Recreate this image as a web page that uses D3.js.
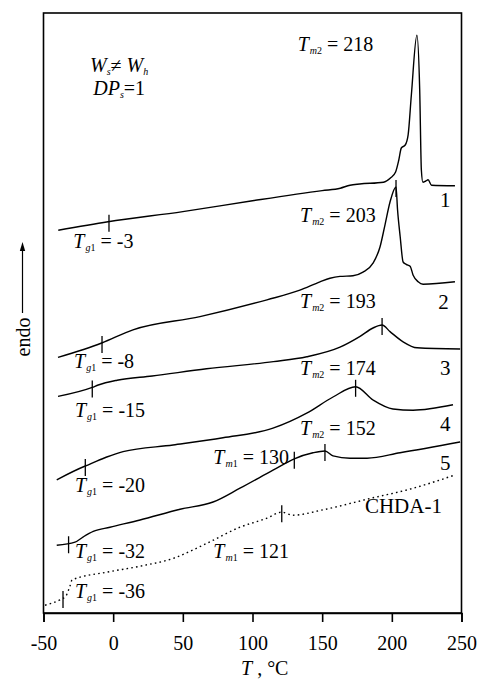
<!DOCTYPE html>
<html>
<head>
<meta charset="utf-8">
<script src="https://cdn.jsdelivr.net/npm/d3@7"></script>
<style>
  html, body { margin: 0; padding: 0; background: #fff; }
  svg { display: block; }
</style>
</head>
<body>
<svg id="chart" width="483" height="682"></svg>
<script>
// DSC heating curves: temperature (°C) vs heat flow (arbitrary units, endo up)
const curve1 = [[-39.4,63.8],[-3.7,65.2],[50,66.9],[100,68.7],[150,70.4],[163,70.8],[170,71.3],[177,71.5],[194,71.8],[199,72.5],[202.7,73.5],[205,75.5],[206.8,77.5],[209.6,78.0],[211.7,79.7],[214,86.3],[218,96.3],[220,87.2],[221.2,73.8],[222.3,71.8],[224.4,72.0],[226,72.2],[228.5,71.3],[245.3,71.2]];
const curve2 = [[-39.6,42.6],[-8.2,45.0],[14.2,47.2],[62.3,49.4],[110.4,52.2],[134,53.8],[148.4,55.2],[155.6,55.8],[162.8,56.1],[172.1,56.2],[179.3,56.8],[186.5,58.3],[191.5,61.0],[195.1,64.7],[198.7,68.5],[203,71.0],[204.1,67.2],[206,62.7],[208.1,58.5],[210.3,58.1],[213.1,57.8],[215.3,56.3],[218.9,55.2],[222.4,54.8],[245.3,55.2]];
const curve3 = [[-39.6,36.1],[-15,37.6],[-10.7,38.0],[2.8,38.8],[28,39.5],[67,40.7],[115,41.9],[139,42.7],[162.8,44.3],[177.2,46.1],[186.5,47.5],[193,48.0],[198.7,46.9],[208.1,45.2],[218.1,44.2],[249,44.0]];
const curve4 = [[-40.5,22.2],[-20,24.5],[-17.8,24.7],[-4.6,26.0],[7.1,26.9],[43,28.0],[78.8,29.2],[114.7,30.8],[138.9,33.3],[157.8,36.0],[174,37.7],[186.5,35.5],[200.8,34.0],[215.2,33.8],[243.9,34.7]];
const curve5 = [[-40.5,11.3],[-27.4,11.8],[-21.4,12.7],[-14.3,13.6],[-2.3,14.3],[19.3,15.5],[48,17.3],[71.7,18.5],[91,20.8],[114.7,23.8],[130,25.7],[143.4,26.7],[152,27.0],[157.8,26.2],[170,25.8],[182.2,25.8],[205.9,26.7],[249,28.5]];
const chda1 = [[-48.9,1.3],[-38.2,2.2],[-34,2.8],[-31,4.5],[-29.5,5.5],[-4.6,6.8],[19.3,7.8],[43,9.1],[67.1,11.6],[91,14.3],[110.4,15.8],[121,16.8],[129,16.3],[150.6,17.2],[186.5,19.2],[210.7,20.5],[245.3,23.0]];

const curveNames = ["1", "2", "3", "4", "5", "CHDA-1"];
const tg1Values = [-3, -8, -15, -20, -32, -36];
const tm1Values = [null, null, null, null, 130, 121];
const tm2Values = [218, 203, 193, 174, 152, null];
const xTicks = [-50, 0, 50, 100, 150, 200, 250];

const curves = [curve1, curve2, curve3, curve4, curve5, chda1];

const svg = d3.select("#chart");
const serif = "'Liberation Serif', 'Times New Roman', serif";

const x = d3.scaleLinear().domain([-50, 250]).range([43.5, 461.5]);
const y = d3.scaleLinear().domain([0, 100]).range([613, 13]);

// value of a curve at a given temperature (linear between samples)
function valueAt(data, T) {
  for (let i = 0; i < data.length - 1; i++) {
    const [t0, v0] = data[i], [t1, v1] = data[i + 1];
    if (T >= t0 && T <= t1) return v0 + (v1 - v0) * (T - t0) / (t1 - t0);
  }
  return T < data[0][0] ? data[0][1] : data[data.length - 1][1];
}

// frame
svg.append("rect")
  .attr("x", x(-50)).attr("y", y(100))
  .attr("width", x(250) - x(-50)).attr("height", y(0) - y(100))
  .attr("fill", "none").attr("stroke", "#000").attr("stroke-width", 1.6);

// x axis
const xAxis = svg.append("g")
  .attr("transform", `translate(0,${y(0)})`)
  .call(d3.axisBottom(x).tickValues(xTicks).tickSize(9).tickFormat(d3.format("d")));
xAxis.select(".domain").attr("stroke-width", 1.6);
xAxis.selectAll(".tick line").attr("stroke-width", 1.6);
xAxis.selectAll(".tick text")
  .attr("y", 37).attr("dy", null)
  .attr("font-family", serif).attr("font-size", 20).attr("fill", "#000")
  .text(d => d < 0 ? "-" + Math.abs(d) : d);

// axis title
const xt = svg.append("text")
  .attr("x", 241).attr("y", 675)
  .attr("font-family", serif).attr("font-size", 20);
xt.append("tspan").attr("font-style", "italic").text("T");
xt.append("tspan").text(" , \u00B0C");

// y axis label with arrow
svg.append("text")
  .attr("transform", "translate(30,337) rotate(-90)")
  .attr("text-anchor", "middle")
  .attr("font-family", serif).attr("font-size", 20)
  .text("endo");
svg.append("line")
  .attr("x1", 22.5).attr("x2", 22.5).attr("y1", 313).attr("y2", 250)
  .attr("stroke", "#000").attr("stroke-width", 1.2);
svg.append("path")
  .attr("d", "M22.5,242 L19.8,251 L25.2,251 Z")
  .attr("fill", "#000");

// curves
const line = d3.line()
  .x(d => x(d[0])).y(d => y(d[1]))
  .curve(d3.curveMonotoneX);

svg.append("g").selectAll("path")
  .data(curves)
  .join("path")
  .attr("d", line)
  .attr("fill", "none")
  .attr("stroke", "#000")
  .attr("stroke-width", 1.4)
  .attr("stroke-linejoin", "round")
  .attr("stroke-dasharray", (d, i) => curveNames[i] === "CHDA-1" ? "1.6,3.2" : null);

// transition markers on each curve
const markers = [];
curves.forEach((c, i) => {
  [tg1Values[i], tm1Values[i], tm2Values[i]].forEach((T, k) => {
    if (T === null) return;
    if (k === 2 && i === 0) return; // melting peak of curve 1 is labelled only
    markers.push({ T, v: valueAt(c, T) });
  });
});
svg.append("g").selectAll("line")
  .data(markers)
  .join("line")
  .attr("x1", d => x(d.T)).attr("x2", d => x(d.T))
  .attr("y1", d => y(d.v) - 7).attr("y2", d => y(d.v) + 10)
  .attr("stroke", "#000").attr("stroke-width", 1.3);

// transition labels: symbol, subscript letter, subscript digit, value, anchor (°C, units)
function symLabel(main, subL, subD, value, T, v) {
  const t = svg.append("text")
    .attr("x", x(T)).attr("y", y(v))
    .attr("font-family", serif).attr("font-size", 20).attr("fill", "#000");
  t.append("tspan").attr("font-style", "italic").text(main);
  t.append("tspan").attr("font-size", 10).attr("font-style", "italic").attr("dy", 3).attr("dx", 1).text(subL);
  t.append("tspan").attr("font-size", 10).text(subD);
  t.append("tspan").attr("dy", -3).text("\u00A0= " + value);
}

const fmt = v => v < 0 ? "-" + Math.abs(v) : String(v);

symLabel("T", "m", "2", fmt(tm2Values[0]), 132.4, 93.6);
symLabel("T", "m", "2", fmt(tm2Values[1]), 134.1, 65.2);
symLabel("T", "m", "2", fmt(tm2Values[2]), 134.1, 50.8);
symLabel("T", "m", "2", fmt(tm2Values[3]), 134.1, 39.7);
symLabel("T", "m", "2", fmt(tm2Values[4]), 134.1, 29.7);
symLabel("T", "m", "1", fmt(tm1Values[4]), 71.9, 24.9);
symLabel("T", "m", "1", fmt(tm1Values[5]), 71.9, 9.1);
symLabel("T", "g", "1", fmt(tg1Values[0]), -28.6, 60.8);
symLabel("T", "g", "1", fmt(tg1Values[1]), -28.1, 40.8);
symLabel("T", "g", "1", fmt(tg1Values[2]), -27.4, 32.7);
symLabel("T", "g", "1", fmt(tg1Values[3]), -27.4, 20.2);
symLabel("T", "g", "1", fmt(tg1Values[4]), -27.4, 9.1);
symLabel("T", "g", "1", fmt(tg1Values[5]), -27.4, 2.45);

// curve numbers
const nameAnchors = [[234.6, 67.7], [233.4, 50.6], [234.6, 39.7], [234.6, 30.3], [234.6, 23.8], [180.7, 16.6]];
svg.append("g").selectAll("text")
  .data(curveNames)
  .join("text")
  .attr("x", (d, i) => x(nameAnchors[i][0]))
  .attr("y", (d, i) => y(nameAnchors[i][1]))
  .attr("font-family", serif).attr("font-size", 21)
  .text(d => d);

// sample description
const ws = svg.append("text")
  .attr("x", x(-16.6)).attr("y", y(90.2))
  .attr("font-family", serif).attr("font-size", 20);
ws.append("tspan").attr("font-style", "italic").text("W");
ws.append("tspan").attr("font-style", "italic").attr("font-size", 10).attr("dy", 3).text("s");
ws.append("tspan").attr("dy", -3).text("\u2260 ");
ws.append("tspan").attr("font-style", "italic").text("W");
ws.append("tspan").attr("font-style", "italic").attr("font-size", 10).attr("dy", 3).text("h");

const dp = svg.append("text")
  .attr("x", x(-14.3)).attr("y", y(86.3))
  .attr("font-family", serif).attr("font-size", 20);
dp.append("tspan").attr("font-style", "italic").text("DP");
dp.append("tspan").attr("font-style", "italic").attr("font-size", 10).attr("dy", 3).text("s");
dp.append("tspan").attr("dy", -3).text("=1");
</script>
</body>
</html>
